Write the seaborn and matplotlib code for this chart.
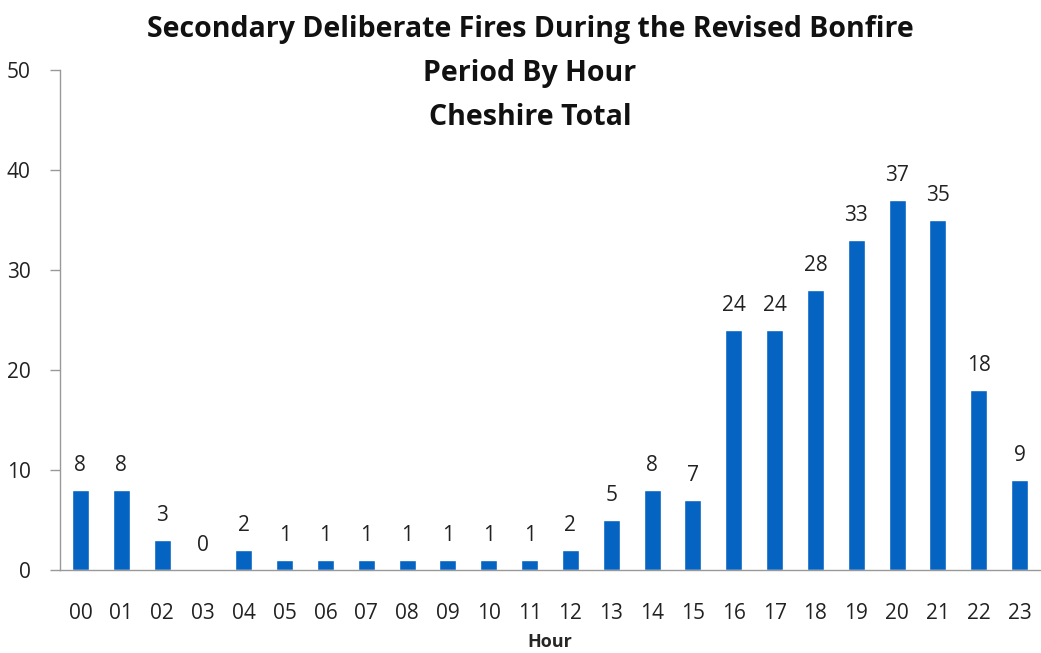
import matplotlib
matplotlib.use("Agg")
import matplotlib.pyplot as plt
import seaborn as sns
import numpy as np

hours = ["00", "01", "02", "03", "04", "05", "06", "07", "08", "09", "10", "11",
         "12", "13", "14", "15", "16", "17", "18", "19", "20", "21", "22", "23"]
fires = [8, 8, 3, 0, 2, 1, 1, 1, 1, 1, 1, 1, 2, 5, 8, 7, 24, 24, 28, 33, 37, 35, 18, 9]

sns.set_style("white")
plt.rcParams["font.family"] = ["Open Sans", "DejaVu Sans"]

fig = plt.figure(figsize=(10.41, 6.53), dpi=100)
ax = fig.add_axes([60 / 1041, 1 - 570 / 653, 980 / 1041, 500 / 653])

sns.barplot(x=hours, y=fires, color="#0563C1", width=0.42, saturation=1, ax=ax)
ax.bar_label(ax.containers[0], padding=10, fontsize=15, color="#222222")

ax.set_ylim(0, 50)
ax.set_xlim(-0.5, 23.5)
ax.set_yticks(range(0, 51, 10))
ax.set_xticks(np.arange(-0.5, 24, 1), minor=True)
ax.tick_params(axis="x", which="major", length=0, pad=24, labelsize=15, labelcolor="#222222")
ax.tick_params(axis="x", which="minor", length=7, color="#999999", width=1, direction="out")
ax.tick_params(axis="y", length=7, color="#999999", width=1, pad=14, labelsize=15,
               labelcolor="#222222", left=True)
for side in ["top", "right"]:
    ax.spines[side].set_visible(False)
for side in ["left", "bottom"]:
    ax.spines[side].set_color("#999999")
    ax.spines[side].set_linewidth(1)

ax.set_xlabel("Hour", fontsize=13, fontweight="bold", labelpad=6)

fig.text(530 / 1041, 1 - 15 / 653,
         "Secondary Deliberate Fires During the Revised Bonfire\nPeriod By Hour\nCheshire Total",
         ha="center", va="top", fontsize=20.5, fontweight="bold", linespacing=1.69, color="#111111")

fig.savefig("out.png", dpi=100)
